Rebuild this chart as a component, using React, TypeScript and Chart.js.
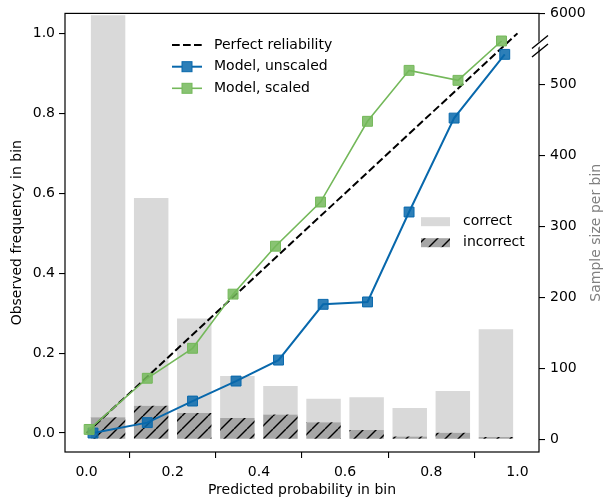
import React, { useEffect, useRef } from 'react';
import { Chart, registerables } from 'chart.js';

Chart.register(...registerables);

const FONT = "'DejaVu Sans', 'Liberation Sans', sans-serif";

// ---- data ----
const binCenters = [0.05, 0.15, 0.25, 0.35, 0.45, 0.55, 0.65, 0.75, 0.85, 0.95];
const incorrectCounts = [31, 47, 37, 30, 35, 24, 13, 4, 9, 3];
const correctCounts = [5944, 293, 133, 59, 40, 33, 46, 40, 59, 152];

const unscaledConf = [0.015, 0.141, 0.246, 0.347, 0.4455, 0.549, 0.652, 0.7485, 0.853, 0.9705];
const unscaledAcc = [0.0, 0.026, 0.08, 0.13, 0.1825, 0.322, 0.328, 0.553, 0.788, 0.9475];
const scaledConf = [0.006, 0.141, 0.246, 0.34, 0.4385, 0.543, 0.652, 0.7485, 0.862, 0.963];
const scaledAcc = [0.009, 0.137, 0.212, 0.3475, 0.4675, 0.578, 0.78, 0.9075, 0.8825, 0.981];

const perfectX = [0, 1];
const perfectY = [0, 1];

const xTicks = [0, 0.2, 0.4, 0.6, 0.8, 1.0];
const leftTicks = [0, 0.2, 0.4, 0.6, 0.8, 1.0];
const rightTicks = [0, 100, 200, 300, 400, 500, 6000];

const lineLabels = ['Perfect reliability', 'Model, unscaled', 'Model, scaled'];
const barLabels = ['correct', 'incorrect'];

// colours
const BLUE = '#0868ac';
const BLUE_FILL = 'rgba(8,104,172,0.85)';
const GREEN = '#74b85a';
const GREEN_FILL = 'rgba(116,184,90,0.85)';
const GRAY_BAR = '#d9d9d9';
const HATCH_BG = '#a6a6a6';

// broken right axis: values above the break are compressed
const toAxis = (v: number) => (v <= 550 ? v : 550 + (v - 5500) * 0.1);

function makeHatch(): CanvasPattern | string {
  const s = 13;
  const c = document.createElement('canvas');
  c.width = s;
  c.height = s;
  const g = c.getContext('2d');
  if (!g) return HATCH_BG;
  g.fillStyle = HATCH_BG;
  g.fillRect(0, 0, s, s);
  g.strokeStyle = '#000';
  g.lineWidth = 1.4;
  for (const k of [-s, 0, s]) {
    g.beginPath();
    g.moveTo(k, s);
    g.lineTo(k + s, 0);
    g.stroke();
  }
  const p = g.createPattern(c, 'repeat');
  return p || HATCH_BG;
}

export default function App() {
  const ref = useRef<HTMLCanvasElement | null>(null);

  useEffect(() => {
    document.body.style.margin = '0';
    const canvas = ref.current;
    if (!canvas) return;
    const hatch = makeHatch();
    const font = { family: FONT, size: 14 };

    const decor = {
      id: 'decor',
      afterDraw(chart: any) {
        const { ctx, chartArea } = chart;
        const { left, right, top, bottom } = chartArea;
        ctx.save();
        // frame
        ctx.strokeStyle = '#000';
        ctx.lineWidth = 1.2;
        ctx.setLineDash([]);
        ctx.strokeRect(left, top, right - left, bottom - top);

        // axis break marks on the right spine
        ctx.fillStyle = '#fff';
        ctx.beginPath();
        ctx.moveTo(right - 3, 49.5);
        ctx.lineTo(right + 3, 44.5);
        ctx.lineTo(right + 3, 39);
        ctx.lineTo(right - 3, 44);
        ctx.closePath();
        ctx.fill();
        ctx.lineWidth = 1.4;
        ctx.beginPath();
        ctx.moveTo(right - 7, 48.5);
        ctx.lineTo(right + 9, 35.5);
        ctx.moveTo(right - 7, 57);
        ctx.lineTo(right + 9, 44);
        ctx.stroke();

        // line legend
        ctx.font = `14px ${FONT}`;
        ctx.textBaseline = 'middle';
        ctx.textAlign = 'left';
        const lx0 = 172, lx1 = 202, tx = 214;
        const rows = [45, 66.7, 88.3];
        // perfect
        ctx.strokeStyle = '#000';
        ctx.lineWidth = 2;
        ctx.setLineDash([7.7, 3.3]);
        ctx.beginPath();
        ctx.moveTo(lx0, rows[0]);
        ctx.lineTo(lx1, rows[0]);
        ctx.stroke();
        ctx.setLineDash([]);
        const drawMarkerRow = (y: number, col: string, fill: string, lw: number) => {
          ctx.strokeStyle = col;
          ctx.lineWidth = lw;
          ctx.beginPath();
          ctx.moveTo(lx0, y);
          ctx.lineTo(lx1, y);
          ctx.stroke();
          ctx.fillStyle = '#fff';
          ctx.fillRect(187 - 5, y - 5, 10, 10);
          ctx.fillStyle = fill;
          ctx.fillRect(187 - 5, y - 5, 10, 10);
          ctx.lineWidth = 1;
          ctx.strokeRect(187 - 5, y - 5, 10, 10);
        };
        drawMarkerRow(rows[1], BLUE, BLUE_FILL, 2);
        drawMarkerRow(rows[2], GREEN, GREEN_FILL, 1.6);
        ctx.fillStyle = '#000';
        lineLabels.forEach((t, i) => ctx.fillText(t, tx, rows[i]));

        // bar legend
        const bx = 421, bw = 29, bh = 9;
        const brows = [221.7, 242.7];
        ctx.fillStyle = GRAY_BAR;
        ctx.fillRect(bx, brows[0] - bh / 2, bw, bh);
        ctx.fillStyle = hatch as any;
        ctx.fillRect(bx, brows[1] - bh / 2, bw, bh);
        ctx.fillStyle = '#000';
        barLabels.forEach((t, i) => ctx.fillText(t, 463, brows[i]));

        // right axis title
        ctx.save();
        ctx.translate(596, (top + bottom) / 2);
        ctx.rotate(-Math.PI / 2);
        ctx.textAlign = 'center';
        ctx.textBaseline = 'middle';
        ctx.fillStyle = '#808080';
        ctx.fillText('Sample size per bin', 0, 0);
        ctx.restore();

        ctx.restore();
      },
    };

    const tickGrid = {
      display: true,
      drawOnChartArea: false,
      drawTicks: true,
      tickLength: 6,
      color: '#000',
      lineWidth: 1.1,
    };

    const chart = new Chart(canvas, {
      type: 'line',
      data: {
        datasets: [
          {
            type: 'line',
            label: lineLabels[2],
            data: scaledConf.map((x, i) => ({ x, y: scaledAcc[i] })),
            xAxisID: 'x',
            yAxisID: 'y',
            borderColor: GREEN,
            borderWidth: 1.6,
            pointStyle: 'rect',
            pointRadius: 7,
            pointBackgroundColor: GREEN_FILL,
            pointBorderColor: GREEN,
            pointBorderWidth: 1,
            order: 0,
          },
          {
            type: 'line',
            label: lineLabels[1],
            data: unscaledConf.map((x, i) => ({ x, y: unscaledAcc[i] })),
            xAxisID: 'x',
            yAxisID: 'y',
            borderColor: BLUE,
            borderWidth: 2,
            pointStyle: 'rect',
            pointRadius: 7,
            pointBackgroundColor: BLUE_FILL,
            pointBorderColor: BLUE,
            pointBorderWidth: 1,
            order: 1,
          },
          {
            type: 'line',
            label: lineLabels[0],
            data: perfectX.map((x, i) => ({ x, y: perfectY[i] })),
            xAxisID: 'x',
            yAxisID: 'y',
            borderColor: '#000',
            borderWidth: 2,
            borderDash: [7.7, 3.3],
            pointRadius: 0,
            order: 2,
          },
          {
            type: 'bar',
            label: barLabels[1],
            data: binCenters.map((x, i) => ({ x, y: [0, toAxis(incorrectCounts[i])] })),
            xAxisID: 'x',
            yAxisID: 'y2',
            backgroundColor: hatch as any,
            borderWidth: 0,
            grouped: false,
            barPercentage: 0.8,
            categoryPercentage: 1,
            order: 3,
          },
          {
            type: 'bar',
            label: barLabels[0],
            data: binCenters.map((x, i) => ({
              x,
              y: [toAxis(incorrectCounts[i]), toAxis(incorrectCounts[i] + correctCounts[i])],
            })),
            xAxisID: 'x',
            yAxisID: 'y2',
            backgroundColor: GRAY_BAR,
            borderWidth: 0,
            grouped: false,
            barPercentage: 0.8,
            categoryPercentage: 1,
            order: 4,
          },
        ] as any,
      },
      options: {
        animation: false,
        responsive: false,
        devicePixelRatio: 1,
        layout: { padding: { top: 13, left: 0, right: 0, bottom: 0 } },
        plugins: { legend: { display: false }, tooltip: { enabled: false } },
        scales: {
          x: {
            type: 'linear',
            position: 'bottom',
            min: -0.05,
            max: 1.05,
            offset: false,
            afterBuildTicks: (s: any) => {
              s.ticks = xTicks.map((v) => ({ value: v }));
            },
            afterFit: (s: any) => {
              s.height = 48;
            },
            ticks: {
              autoSkip: false,
              maxRotation: 0,
              padding: 6,
              color: '#000',
              font,
              callback: (v: any) => Number(v).toFixed(1),
            },
            grid: tickGrid,
            border: { display: false },
            title: {
              display: true,
              text: 'Predicted probability in bin',
              color: '#000',
              font,
              padding: { top: 0, bottom: 1 },
            },
          },
          y: {
            type: 'linear',
            position: 'left',
            min: -0.0475,
            max: 1.05,
            afterBuildTicks: (s: any) => {
              s.ticks = leftTicks.map((v) => ({ value: v }));
            },
            afterFit: (s: any) => {
              s.width = 65;
            },
            ticks: {
              autoSkip: false,
              padding: 4,
              color: '#000',
              font,
              callback: (v: any) => Number(v).toFixed(1),
            },
            grid: tickGrid,
            border: { display: false },
            title: {
              display: true,
              text: 'Observed frequency in bin',
              color: '#000',
              font,
              padding: { top: 9, bottom: 0 },
            },
          },
          y2: {
            type: 'linear',
            position: 'right',
            min: -18,
            max: 600,
            stacked: false,
            afterBuildTicks: (s: any) => {
              s.ticks = rightTicks.map((v) => ({ value: toAxis(v) }));
            },
            afterFit: (s: any) => {
              s.width = 64;
            },
            ticks: {
              autoSkip: false,
              padding: 5,
              color: '#000',
              font,
              callback: (_v: any, i: number) => String(rightTicks[i]),
            },
            grid: tickGrid,
            border: { display: false },
          },
        },
      } as any,
      plugins: [decor],
    });

    return () => chart.destroy();
  }, []);

  return (
    <div style={{ width: 603, height: 500 }}>
      <canvas ref={ref} width={603} height={500} style={{ display: 'block' }} />
    </div>
  );
}
